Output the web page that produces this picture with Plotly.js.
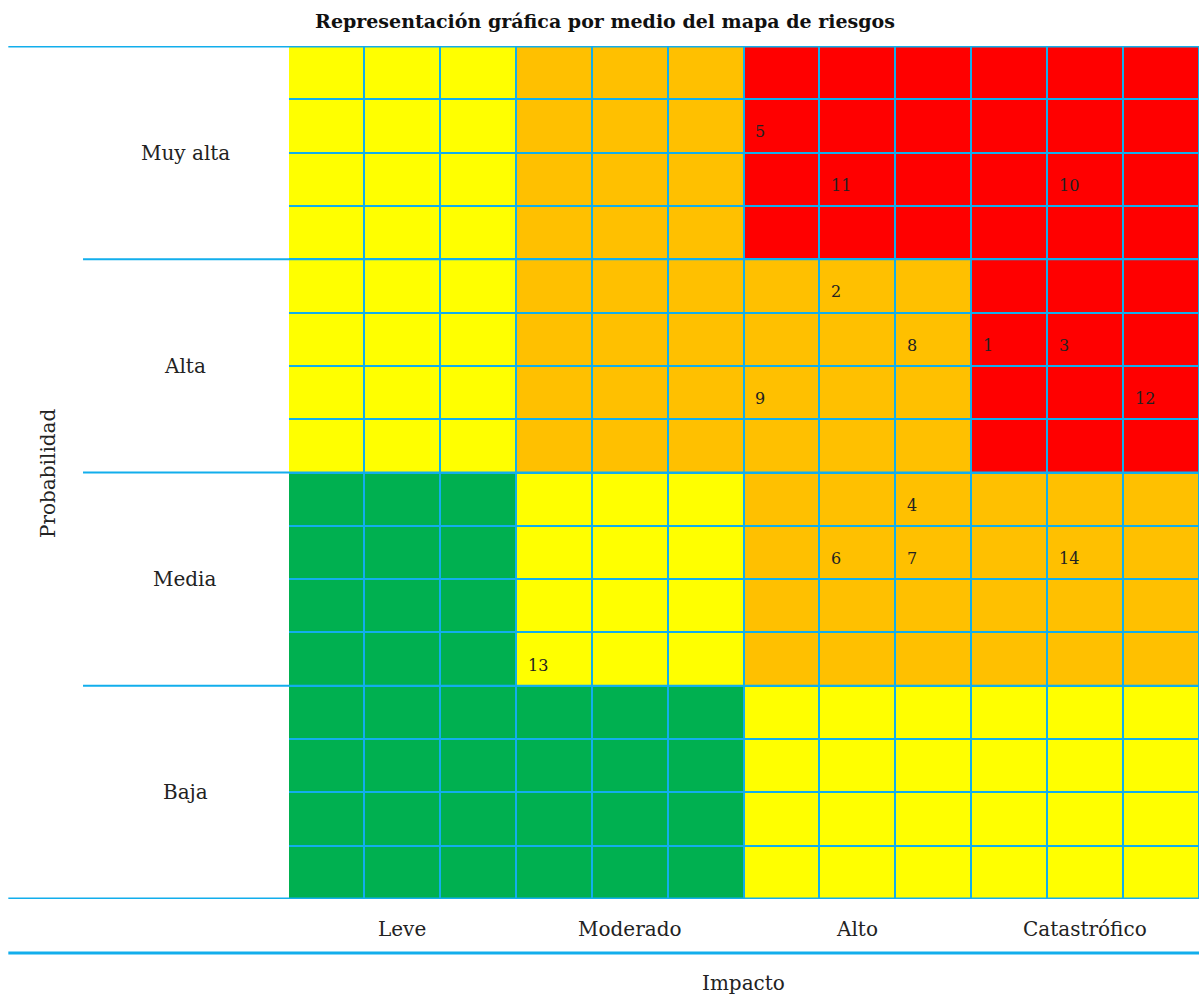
<!DOCTYPE html>
<html>
<head>
<meta charset="utf-8">
<script src="https://cdn.plot.ly/plotly-3.0.1.min.js"></script>
<style>html,body{margin:0;padding:0;background:#fff;}#chart{width:1199px;height:996px;}</style>
</head>
<body>
<div id="chart"></div>
<script>
// ---- Data ----
var impactLevels = ['Leve', 'Moderado', 'Alto', 'Catastrófico'];
var probLevels = ['Muy alta', 'Alta', 'Media', 'Baja'];
var colsPerImpact = 3;
var rowsPerProb = 4;
// risk zone per probability level (rows) and impact level (cols): 0=verde,1=amarillo,2=naranja,3=rojo
var zoneMuyAlta = [1, 2, 3, 3];
var zoneAlta    = [1, 2, 2, 3];
var zoneMedia   = [0, 1, 2, 2];
var zoneBaja    = [0, 0, 1, 1];
var zoneColors = ['#00B050', '#FFFF00', '#FFC000', '#FF0000'];

// risks: id, column (0-11), row (0-15)
var riskIds  = ['5', '11', '10', '2', '8', '1', '3', '9', '12', '4', '6', '7', '14', '13'];
var riskCols = [6, 7, 10, 7, 8, 9, 10, 6, 11, 8, 7, 8, 10, 3];
var riskRows = [1, 2, 2, 4, 5, 5, 5, 6, 6, 8, 9, 9, 9, 11];

// ---- Build grid ----
var zones = [zoneMuyAlta, zoneAlta, zoneMedia, zoneBaja];
var nCols = impactLevels.length * colsPerImpact;
var nRows = probLevels.length * rowsPerProb;
var xs = [], ys = [], z = [];
for (var c = 0; c < nCols; c++) xs.push(c);
for (var r = 0; r < nRows; r++) {
  ys.push(r);
  var row = [];
  for (var c2 = 0; c2 < nCols; c2++) {
    row.push(zones[Math.floor(r / rowsPerProb)][Math.floor(c2 / colsPerImpact)]);
  }
  z.push(row);
}

var lineColor = '#12AEEC';
var font = 'DejaVu Serif';

var heat = {
  type: 'heatmap', x: xs, y: ys, z: z,
  zmin: 0, zmax: 3,
  colorscale: [[0, zoneColors[0]], [1/3, zoneColors[1]], [2/3, zoneColors[2]], [1, zoneColors[3]]],
  showscale: false, xgap: 2, ygap: 2, hoverinfo: 'skip'
};

var annotations = [];
for (var i = 0; i < riskIds.length; i++) {
  annotations.push({
    x: riskCols[i], y: riskRows[i], xref: 'x', yref: 'y',
    text: riskIds[i], showarrow: false, xanchor: 'left', yanchor: 'middle',
    xshift: -28, yshift: -6,
    font: {family: font, size: 16, color: '#222'}
  });
}
for (var p = 0; p < probLevels.length; p++) {
  annotations.push({
    x: -0.113, xref: 'paper', y: p * rowsPerProb + (rowsPerProb - 1) / 2, yref: 'y',
    text: probLevels[p], showarrow: false, xanchor: 'center', yanchor: 'middle',
    font: {family: font, size: 20, color: '#222'}
  });
}
for (var k = 0; k < impactLevels.length; k++) {
  annotations.push({
    x: k * colsPerImpact + (colsPerImpact - 1) / 2, xref: 'x', y: -0.035, yref: 'paper',
    text: impactLevels[k], showarrow: false, xanchor: 'center', yanchor: 'middle',
    font: {family: font, size: 20, color: '#222'}
  });
}
annotations.push({
  x: 0.5, xref: 'paper', y: -0.098, yref: 'paper', text: 'Impacto', showarrow: false,
  xanchor: 'center', yanchor: 'middle', font: {family: font, size: 20, color: '#222'}
});
annotations.push({
  x: -0.264, xref: 'paper', y: 0.5, yref: 'paper', text: 'Probabilidad', showarrow: false,
  textangle: -90, xanchor: 'center', yanchor: 'middle', font: {family: font, size: 20, color: '#222'}
});

var shapes = [];
// white mask hiding the background strip on the left edge of the grid
shapes.push({type: 'rect', xref: 'paper', yref: 'paper', x0: -0.002, x1: 0.0011, y0: 0, y1: 1,
  fillcolor: '#ffffff', line: {width: 0}, layer: 'above'});
function hline(x0, y0, yref, w) {
  shapes.push({type: 'line', xref: 'paper', yref: yref, x0: x0, x1: 1, y0: y0, y1: y0,
    line: {color: lineColor, width: w}, layer: 'above'});
}
hline(-0.307, -0.5, 'y', 3);
hline(-0.307, nRows - 0.5, 'y', 3);
for (var g = 1; g < probLevels.length; g++) hline(-0.225, g * rowsPerProb - 0.5, 'y', 2);
hline(-0.307, -0.0633, 'paper', 3);

var layout = {
  width: 1199, height: 996,
  margin: {l: 288, r: 0, t: 46, b: 97},
  paper_bgcolor: '#fff', plot_bgcolor: lineColor,
  title: {text: '<b>Representación gráfica por medio del mapa de riesgos</b>',
    x: 605/1199, xanchor: 'center', y: 1 - 21/996, yanchor: 'middle', yref: 'container',
    font: {family: font, size: 19, color: '#111'}},
  xaxis: {range: [-0.5, nCols - 0.5], showgrid: false, zeroline: false, showticklabels: false, ticks: '', fixedrange: true},
  yaxis: {range: [nRows - 0.5, -0.5], showgrid: false, zeroline: false, showticklabels: false, ticks: '', fixedrange: true},
  annotations: annotations,
  shapes: shapes,
  showlegend: false
};

Plotly.newPlot('chart', [heat], layout, {displayModeBar: false, staticPlot: true});
</script>
</body>
</html>
